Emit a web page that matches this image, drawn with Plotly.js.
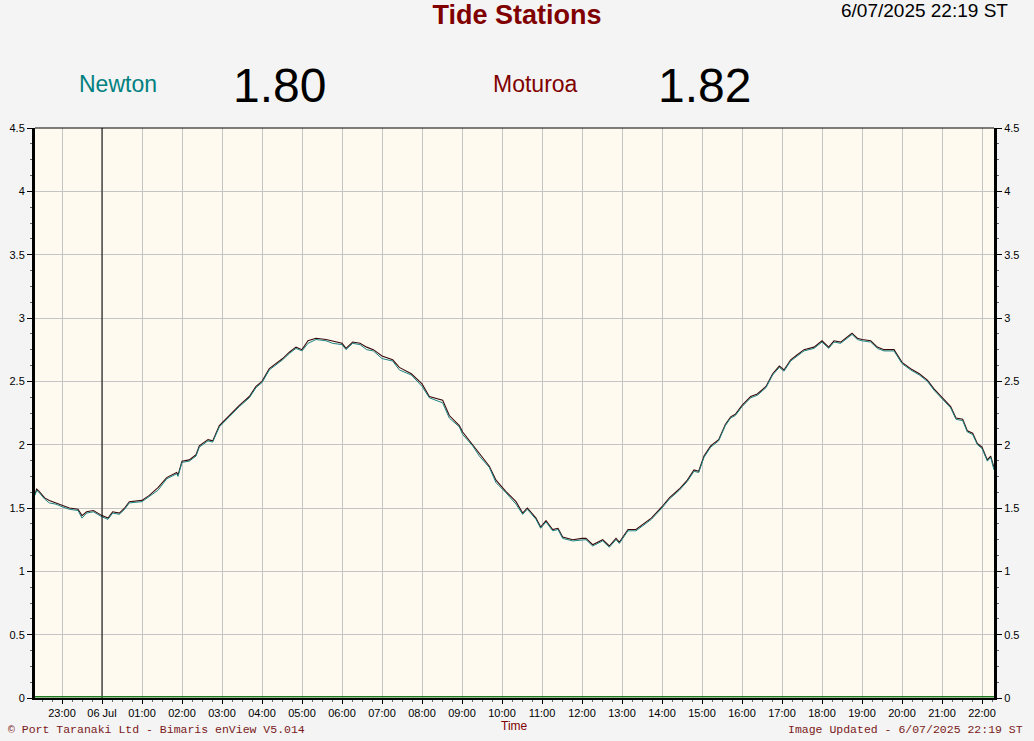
<!DOCTYPE html>
<html>
<head>
<meta charset="utf-8">
<script src="https://cdn.plot.ly/plotly-3.0.1.min.js"></script>
<style>
  html, body { margin: 0; padding: 0; background: #f4f4f4; }
  #chart { width: 1034px; height: 741px; }
</style>
</head>
<body>
<div id="chart"></div>
<script>
// ---- Data ----
const times = [
  "2025-07-05 22:19:30","2025-07-05 22:22","2025-07-05 22:26","2025-07-05 22:34","2025-07-05 22:41",
  "2025-07-05 22:51","2025-07-05 23:00","2025-07-05 23:11","2025-07-05 23:24","2025-07-05 23:30",
  "2025-07-05 23:37","2025-07-05 23:47","2025-07-06 00:00","2025-07-06 00:09","2025-07-06 00:16",
  "2025-07-06 00:26","2025-07-06 00:34","2025-07-06 00:41","2025-07-06 01:00","2025-07-06 01:11",
  "2025-07-06 01:24","2025-07-06 01:37","2025-07-06 01:52","2025-07-06 01:54","2025-07-06 02:00",
  "2025-07-06 02:11","2025-07-06 02:21","2025-07-06 02:26","2025-07-06 02:39","2025-07-06 02:46",
  "2025-07-06 02:56","2025-07-06 03:11","2025-07-06 03:26","2025-07-06 03:41","2025-07-06 03:51",
  "2025-07-06 04:00","2025-07-06 04:11","2025-07-06 04:31","2025-07-06 04:41","2025-07-06 04:51",
  "2025-07-06 05:00","2025-07-06 05:09","2025-07-06 05:21","2025-07-06 05:36","2025-07-06 05:46",
  "2025-07-06 06:00","2025-07-06 06:06","2025-07-06 06:16","2025-07-06 06:27","2025-07-06 06:37",
  "2025-07-06 06:47","2025-07-06 07:00","2025-07-06 07:16","2025-07-06 07:26","2025-07-06 07:44",
  "2025-07-06 08:00","2025-07-06 08:11","2025-07-06 08:31","2025-07-06 08:41","2025-07-06 08:56",
  "2025-07-06 09:01","2025-07-06 09:16","2025-07-06 09:26","2025-07-06 09:41","2025-07-06 09:51",
  "2025-07-06 10:06","2025-07-06 10:21","2025-07-06 10:31","2025-07-06 10:38","2025-07-06 10:51",
  "2025-07-06 10:58","2025-07-06 11:06","2025-07-06 11:16","2025-07-06 11:24","2025-07-06 11:31",
  "2025-07-06 11:46","2025-07-06 12:00","2025-07-06 12:06","2025-07-06 12:16","2025-07-06 12:31",
  "2025-07-06 12:41","2025-07-06 12:51","2025-07-06 12:56","2025-07-06 13:09","2025-07-06 13:21",
  "2025-07-06 13:34","2025-07-06 13:44","2025-07-06 14:00","2025-07-06 14:11","2025-07-06 14:26",
  "2025-07-06 14:38","2025-07-06 14:48","2025-07-06 14:55","2025-07-06 15:03","2025-07-06 15:13",
  "2025-07-06 15:25","2025-07-06 15:35","2025-07-06 15:43","2025-07-06 15:50","2025-07-06 16:00",
  "2025-07-06 16:13","2025-07-06 16:23","2025-07-06 16:36","2025-07-06 16:46","2025-07-06 16:56",
  "2025-07-06 17:03","2025-07-06 17:13","2025-07-06 17:23","2025-07-06 17:33","2025-07-06 17:48",
  "2025-07-06 18:00","2025-07-06 18:10","2025-07-06 18:18","2025-07-06 18:28","2025-07-06 18:38",
  "2025-07-06 18:45","2025-07-06 18:53","2025-07-06 19:00","2025-07-06 19:13","2025-07-06 19:23",
  "2025-07-06 19:33","2025-07-06 19:48","2025-07-06 20:00","2025-07-06 20:13","2025-07-06 20:26",
  "2025-07-06 20:38","2025-07-06 20:48","2025-07-06 21:00","2025-07-06 21:13","2025-07-06 21:21",
  "2025-07-06 21:31","2025-07-06 21:38","2025-07-06 21:46","2025-07-06 21:53","2025-07-06 22:00",
  "2025-07-06 22:08","2025-07-06 22:13","2025-07-06 22:18"
];
const newton = [
  1.60,1.64,1.62,1.57,1.54, 1.53,1.51,1.49,1.48,1.42, 1.46,1.47,1.43,1.41,1.46,
  1.45,1.49,1.54,1.55,1.59, 1.64,1.73,1.77,1.75,1.86, 1.87,1.91,1.98,2.03,2.02,
  2.14,2.22,2.30,2.37,2.45, 2.49,2.59,2.67,2.72,2.76, 2.74,2.80,2.83,2.82,2.80,
  2.79,2.75,2.80,2.79,2.75, 2.74,2.68,2.66,2.59,2.55, 2.46,2.37,2.33,2.21,2.14,
  2.08,1.99,1.91,1.82,1.70, 1.62,1.53,1.45,1.49,1.41, 1.34,1.39,1.32,1.33,1.26,
  1.24,1.25,1.25,1.20,1.24, 1.19,1.25,1.22,1.32,1.32, 1.37,1.41,1.50,1.57,1.64,
  1.71,1.79,1.78,1.90,1.98, 2.03,2.15,2.21,2.23,2.30, 2.37,2.39,2.45,2.55,2.61,
  2.58,2.66,2.70,2.74,2.76, 2.81,2.76,2.81,2.80,2.84, 2.87,2.83,2.82,2.81,2.76,
  2.74,2.74,2.64,2.59,2.55, 2.50,2.43,2.36,2.29,2.20, 2.19,2.10,2.08,2.00,1.97,
  1.87,1.90,1.80
];
const moturoa = [
  1.61,1.65,1.63,1.58,1.56, 1.54,1.52,1.50,1.49,1.44, 1.47,1.48,1.44,1.42,1.47,
  1.46,1.50,1.55,1.56,1.60, 1.66,1.74,1.78,1.76,1.87, 1.88,1.92,1.99,2.04,2.03,
  2.15,2.23,2.31,2.38,2.46, 2.50,2.60,2.68,2.73,2.77, 2.75,2.82,2.84,2.83,2.82,
  2.80,2.76,2.81,2.80,2.77, 2.75,2.70,2.67,2.61,2.56, 2.48,2.38,2.35,2.23,2.15,
  2.10,2.00,1.93,1.83,1.72, 1.63,1.55,1.46,1.50,1.42, 1.35,1.40,1.33,1.34,1.27,
  1.25,1.26,1.26,1.21,1.25, 1.20,1.26,1.23,1.33,1.33, 1.38,1.42,1.51,1.58,1.65,
  1.72,1.80,1.79,1.91,1.99, 2.04,2.16,2.22,2.24,2.31, 2.38,2.40,2.46,2.56,2.62,
  2.59,2.67,2.71,2.75,2.77, 2.82,2.77,2.82,2.81,2.85, 2.88,2.84,2.83,2.82,2.77,
  2.75,2.75,2.65,2.60,2.56, 2.51,2.44,2.37,2.30,2.21, 2.20,2.11,2.09,2.01,1.98,
  1.88,1.91,1.82
];
const tickTimes = [
  "2025-07-05 23:00","2025-07-06 00:00","2025-07-06 01:00","2025-07-06 02:00","2025-07-06 03:00",
  "2025-07-06 04:00","2025-07-06 05:00","2025-07-06 06:00","2025-07-06 07:00","2025-07-06 08:00",
  "2025-07-06 09:00","2025-07-06 10:00","2025-07-06 11:00","2025-07-06 12:00","2025-07-06 13:00",
  "2025-07-06 14:00","2025-07-06 15:00","2025-07-06 16:00","2025-07-06 17:00","2025-07-06 18:00",
  "2025-07-06 19:00","2025-07-06 20:00","2025-07-06 21:00","2025-07-06 22:00"
];
const tickLabels = [
  "23:00","06 Jul","01:00","02:00","03:00","04:00","05:00","06:00","07:00","08:00",
  "09:00","10:00","11:00","12:00","13:00","14:00","15:00","16:00","17:00","18:00",
  "19:00","20:00","21:00","22:00"
];
const yTicks = [0,0.5,1,1.5,2,2.5,3,3.5,4,4.5];
const yLabels = ["0","0.5","1","1.5","2","2.5","3","3.5","4","4.5"];
const stationNames = ["Newton","Moturoa"];
const currentValues = ["1.80","1.82"];
const chartTitle = "Tide Stations";
const stampText = "6/07/2025 22:19 ST";
const footerLeft = "© Port Taranaki Ltd - Bimaris enView V5.014";
const footerRight = "Image Updated - 6/07/2025 22:19 ST";
const xTitle = "Time";
const midnight = "2025-07-06 00:00";

// ---- Layout helpers (pixel -> paper) ----
const W = 1034, H = 741;
const M = {l: 35, r: 40, t: 128, b: 43};
const PW = W - M.l - M.r, PH = H - M.t - M.b;
const px = x => (x - M.l) / PW;
const py = y => (H - M.b - y) / PH;

const DARKRED = "#800000";
const TEAL = "#008080";

const traces = [
  {
    x: times, y: moturoa, type: "scatter", mode: "lines", name: stationNames[1],
    line: {color: "#3a0a0a", width: 1.1}, hoverinfo: "skip", yaxis: "y"
  },
  {
    x: times, y: newton, type: "scatter", mode: "lines", name: stationNames[0],
    line: {color: "#1c8585", width: 1}, hoverinfo: "skip", yaxis: "y2"
  }
];

const tickFont = {family: "Liberation Sans, Arial, sans-serif", size: 11, color: "#000"};

const layout = {
  width: W, height: H,
  margin: M,
  paper_bgcolor: "#f4f4f4",
  plot_bgcolor: "#fffaf0",
  showlegend: false,
  title: {
    text: "<b>" + chartTitle + "</b>",
    font: {family: "Liberation Sans, Arial, sans-serif", size: 27, color: DARKRED},
    x: 0.5, xref: "container", xanchor: "center",
    y: 1 - 15 / H, yref: "container", yanchor: "middle"
  },
  xaxis: {
    type: "date",
    range: ["2025-07-05 22:19:30", "2025-07-06 22:18:00"],
    tickmode: "array", tickvals: tickTimes, ticktext: tickLabels,
    ticks: "outside", ticklen: 4, tickcolor: "#000", tickwidth: 1,
    tickfont: tickFont,
    showgrid: true, gridcolor: "#c4c4c4", gridwidth: 1,
    showline: true, linecolor: "#000", linewidth: 2,
    zeroline: false,
    minor: {dtick: 900000, tick0: "2025-07-06 00:00", ticks: "outside", ticklen: 2, tickcolor: "#666", showgrid: false},
    fixedrange: true
  },
  yaxis: {
    range: [0, 4.5],
    tickmode: "array", tickvals: yTicks, ticktext: yLabels,
    ticks: "outside", ticklen: 5, tickcolor: "#000",
    tickfont: tickFont,
    showgrid: true, gridcolor: "#c4c4c4",
    showline: true, linecolor: "#000", linewidth: 3,
    zeroline: false,
    minor: {dtick: 0.125, ticks: "outside", ticklen: 2, tickcolor: "#666", showgrid: false},
    fixedrange: true
  },
  yaxis2: {
    range: [0, 4.5], overlaying: "y", side: "right",
    tickmode: "array", tickvals: yTicks, ticktext: yLabels,
    ticks: "outside", ticklen: 5, tickcolor: "#000",
    tickfont: tickFont,
    showgrid: false,
    showline: true, linecolor: "#000", linewidth: 3,
    zeroline: false,
    minor: {dtick: 0.125, ticks: "outside", ticklen: 2, tickcolor: "#666", showgrid: false},
    fixedrange: true
  },
  shapes: [
    {type: "line", xref: "paper", yref: "paper", x0: 0, x1: 1, y0: 1, y1: 1, line: {color: "#000", width: 1}},
    {type: "line", xref: "x", yref: "paper", x0: midnight, x1: midnight, y0: 0, y1: 1, line: {color: "#000", width: 1}},
    {type: "line", xref: "paper", yref: "y", x0: 0, x1: 1, y0: 0.01, y1: 0.01, line: {color: "#1f7a1f", width: 1.5}}
  ],
  annotations: [
    {text: stampText, xref: "paper", yref: "paper", x: px(1010), y: py(10), xanchor: "right", yanchor: "middle",
     showarrow: false, font: {family: "Liberation Sans, Arial, sans-serif", size: 19, color: "#000"}},
    {text: stationNames[0], xref: "paper", yref: "paper", x: px(118), y: py(84), xanchor: "center", yanchor: "middle",
     showarrow: false, font: {family: "Liberation Sans, Arial, sans-serif", size: 23, color: TEAL}},
    {text: currentValues[0], xref: "paper", yref: "paper", x: px(279), y: py(85), xanchor: "center", yanchor: "middle",
     showarrow: false, font: {family: "Liberation Sans, Arial, sans-serif", size: 48, color: "#000"}},
    {text: stationNames[1], xref: "paper", yref: "paper", x: px(535), y: py(84), xanchor: "center", yanchor: "middle",
     showarrow: false, font: {family: "Liberation Sans, Arial, sans-serif", size: 23, color: DARKRED}},
    {text: currentValues[1], xref: "paper", yref: "paper", x: px(704), y: py(85), xanchor: "center", yanchor: "middle",
     showarrow: false, font: {family: "Liberation Sans, Arial, sans-serif", size: 48, color: "#000"}},
    {text: footerLeft, xref: "paper", yref: "paper", x: px(6), y: py(729), xanchor: "left", yanchor: "middle",
     showarrow: false, font: {family: "Liberation Mono, Courier New, monospace", size: 11.5, color: "#7a1a1a"}},
    {text: footerRight, xref: "paper", yref: "paper", x: px(1025), y: py(729), xanchor: "right", yanchor: "middle",
     showarrow: false, font: {family: "Liberation Mono, Courier New, monospace", size: 11.5, color: "#7a1a1a"}},
    {text: xTitle, xref: "paper", yref: "paper", x: px(514), y: py(726), xanchor: "center", yanchor: "middle",
     showarrow: false, font: {family: "Liberation Sans, Arial, sans-serif", size: 12, color: DARKRED}}
  ]
};

Plotly.newPlot("chart", traces, layout, {displayModeBar: false, staticPlot: true});
</script>
</body>
</html>
